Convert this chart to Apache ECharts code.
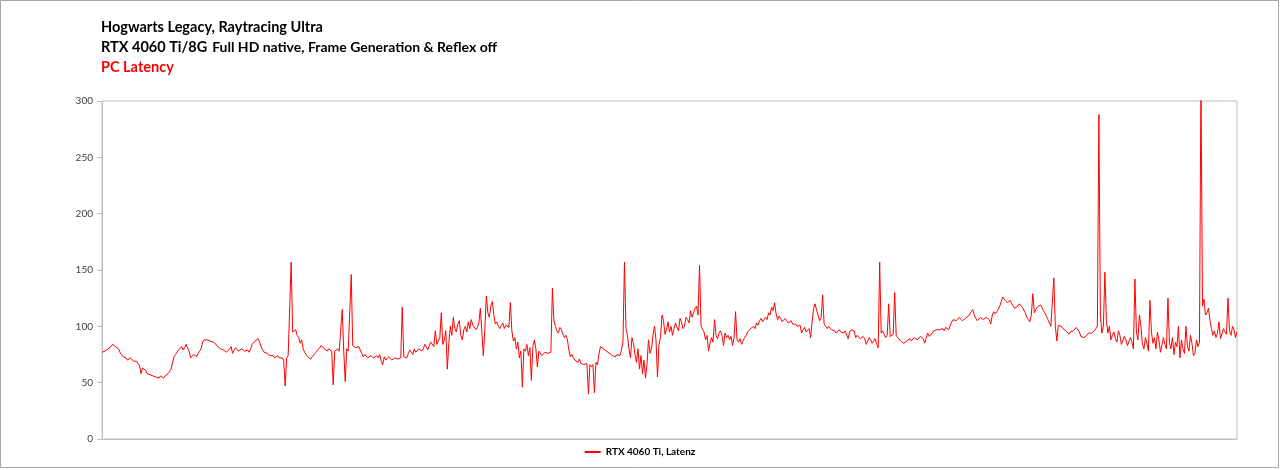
<!DOCTYPE html>
<html>
<head>
<meta charset="utf-8">
<script src="https://cdn.jsdelivr.net/npm/echarts@6/dist/echarts.min.js"></script>
<style>
  html, body { margin: 0; padding: 0; background: #fff; }
  #chart { width: 1280px; height: 470px; }
</style>
</head>
<body>
<div id="chart"></div>
<script>
var latencyPart1 = [77, 77, 78, 79, 80, 81, 82, 84, 83, 82, 82, 80, 77, 75, 73, 74, 72, 70, 70, 72,
  71, 69, 68, 69, 67, 65, 58, 63, 64, 61, 58, 57, 57, 56, 56, 55, 55, 55, 54, 56,
  55, 54, 56, 57, 58, 60, 62, 68, 73, 75, 77, 79, 80, 82, 79, 81, 84, 83, 78, 72,
  72, 75, 74, 73, 76, 78, 80, 86, 88, 87, 88, 89, 87, 86, 86, 85, 84, 82, 81, 80,
  80, 79, 78, 77, 76, 80, 82, 76, 79, 81, 80, 78, 79, 80, 79, 78, 78, 79, 77, 80,
  84, 85, 87, 88, 89, 86, 82, 79, 77, 76, 76, 75, 74, 73, 74, 72, 73, 74, 72, 71,
  72, 70, 47, 72, 74, 75];
var latencyPart2 = [157, 95, 96, 97, 92, 90, 85, 88, 80, 77, 75, 73, 72, 71, 73, 74, 76, 78, 79, 81,
  83, 82, 80, 79, 78, 80, 79, 78, 48, 78, 79, 80, 78, 77, 115, 79, 51, 80, 78, 79,
  146, 83, 82, 81, 80, 82, 79, 76, 73, 75, 74, 72, 73, 74, 74, 72, 73, 74, 72, 75,
  69, 66, 73, 70, 71, 73, 72, 70, 71, 72, 72, 71, 70, 72, 117, 73, 74, 72, 76, 79,
  78, 75, 80, 77, 76, 80, 81, 78, 80, 84, 82, 79, 83, 86, 87, 82, 96, 84, 85, 90,
  112, 84, 88, 96, 62, 85, 100, 92, 108, 98, 95, 102, 105, 92, 88, 97, 100, 95, 104, 98,
  106, 101, 100, 97];
var latencyPart3 = [99, 103, 116, 95, 74, 98, 127, 112, 108, 118, 122, 110, 102, 104, 100, 98, 101, 103, 98, 101,
  100, 99, 121, 96, 87, 90, 80, 86, 72, 78, 46, 80, 78, 84, 74, 81, 52, 82, 88, 80,
  64, 78, 77, 74, 75, 77, 77, 76, 75, 77, 134, 105, 100, 96, 94, 99, 97, 93, 90, 92,
  88, 79, 73, 75, 72, 70, 70, 68, 71, 67, 68, 66, 65, 67, 40, 66, 64, 66, 41, 68,
  66, 75, 82, 83, 80, 81, 78, 77, 76, 75, 74, 73, 73, 75, 76, 74, 79, 86, 157, 98,
  92, 80, 72, 90, 85, 75, 68, 80, 62, 74, 58, 70, 54, 66, 88, 76, 80, 92, 100, 88,
  55, 84];
var latencyPart4 = [90, 110, 105, 93, 97, 104, 95, 100, 92, 98, 103, 99, 96, 107, 104, 98, 100, 108, 106, 103,
  114, 108, 112, 116, 118, 110, 154, 100, 99, 95, 88, 92, 78, 85, 90, 86, 106, 92, 89, 94,
  96, 92, 83, 94, 90, 92, 88, 91, 83, 90, 113, 88, 86, 89, 84, 87, 90, 92, 95, 94,
  98, 97, 100, 98, 103, 101, 105, 107, 104, 106, 108, 106, 112, 110, 117, 114, 121, 111, 106, 109,
  107, 104, 105, 107, 105, 103, 104, 105, 102, 103, 102, 100, 100, 101, 94, 97, 99, 95, 96, 98,
  90, 104, 116, 120, 114, 110, 105, 108, 128, 102, 100, 98, 100, 99, 97, 98, 96, 94, 95, 97,
  95, 94, 94, 96];
var latencyPart5 = [96, 89, 95, 97, 97, 96, 90, 92, 91, 89, 90, 91, 89, 84, 87, 90, 88, 85, 86, 89,
  84, 81, 157, 94, 96, 93, 90, 92, 120, 91, 92, 93, 130, 92, 90, 89, 87, 86, 85, 86,
  87, 88, 89, 87, 88, 90, 91, 88, 89, 91, 92, 89, 85, 90, 94, 91, 92, 94, 96, 95,
  97, 96, 97, 98, 98, 96, 99, 100, 97, 101, 104, 106, 107, 105, 106, 108, 107, 105, 106, 107,
  106, 109, 111, 113, 115, 110, 107, 105, 106, 108, 107, 106, 107, 108, 108, 106, 102, 110, 113, 111,
  113, 115, 118, 122, 126, 124, 125, 121, 122, 123, 120, 118, 116, 117, 118, 120, 119, 117, 116, 112,
  108, 106, 104, 110, 129, 112, 115, 117, 118, 119];
var latencyPart6 = [117, 114, 112, 109, 106, 103, 100, 99, 143, 100, 87, 101, 102, 100, 98, 97, 96, 95, 93, 95,
  94, 96, 97, 99, 98, 95, 91, 92, 90, 91, 92, 94, 93, 94, 95, 96, 98, 100, 288, 110,
  94, 100, 148, 105, 94, 100, 88, 92, 95, 89, 86, 96, 92, 84, 85, 91, 88, 83, 82, 90,
  86, 80, 142, 95, 88, 110, 100, 84, 80, 90, 85, 78, 123, 95, 85, 90, 80, 95, 88, 77,
  78, 90, 84, 80, 125, 85, 80, 90, 75, 86, 82, 100, 72, 88, 80, 76, 100, 82, 78, 92,
  85, 74, 76, 88, 82, 86, 320, 118, 124, 110, 112, 116, 105, 98, 92, 96, 90, 94, 104, 89,
  90, 98, 95, 93, 125, 96, 92, 100, 97, 90, 95];

var yTicks = [0, 50, 100, 150, 200, 250, 300];
var seriesName = 'RTX 4060 Ti, Latenz';

var latency = latencyPart1.concat(latencyPart2, latencyPart3, latencyPart4, latencyPart5, latencyPart6);
var samples = latency.map(function (v, i) { return i; });

var font = 'Lato, "Open Sans", sans-serif';
var myChart = echarts.init(document.getElementById('chart'));

var option = {
  animation: false,
  backgroundColor: '#fff',
  title: {
    left: 96,
    top: 12,
    text: '{b|Hogwarts Legacy, Raytracing Ultra}\n{b|RTX 4060 Ti/8G} {n|Full HD native, Frame Generation & Reflex off}\n{r|PC Latency}',
    textStyle: {
      rich: {
        b: { fontFamily: font, fontSize: 14.5, fontWeight: 'bold', color: '#000', lineHeight: 20 },
        n: { fontFamily: font, fontSize: 14, color: '#000', lineHeight: 20 },
        r: { fontFamily: font, fontSize: 14.5, fontWeight: 'bold', color: '#ff0000', lineHeight: 20 }
      }
    }
  },
  graphic: [{
    type: 'rect',
    shape: { x: 0.5, y: 0.5, width: 1278, height: 467 },
    style: { fill: 'none', stroke: '#a6a6a6', lineWidth: 1 },
    silent: true
  }],
  legend: {
    data: [seriesName],
    left: 'center',
    bottom: 8,
    icon: 'rect',
    itemWidth: 16,
    itemHeight: 2,
    itemGap: 4,
    textStyle: { fontFamily: font, fontSize: 10, fontWeight: 'bold', color: '#000' }
  },
  grid: {
    left: 102,
    right: 43,
    top: 101,
    bottom: 31,
    show: true,
    borderColor: '#bfbfbf',
    borderWidth: 1
  },
  xAxis: {
    type: 'category',
    data: samples,
    boundaryGap: false,
    axisLine: { lineStyle: { color: '#bfbfbf' } },
    axisTick: { show: false },
    axisLabel: { show: false },
    splitLine: { show: false }
  },
  yAxis: {
    type: 'value',
    min: yTicks[0],
    max: yTicks[yTicks.length - 1],
    interval: 50,
    axisLine: { show: true, lineStyle: { color: '#bfbfbf' } },
    axisTick: { show: true, length: 5, lineStyle: { color: '#bfbfbf' } },
    axisLabel: { fontFamily: font, fontSize: 10, color: '#404040', margin: 9 },
    splitLine: { show: false }
  },
  series: [{
    name: seriesName,
    type: 'line',
    data: latency,
    showSymbol: false,
    symbol: 'none',
    clip: true,
    lineStyle: { color: '#ff0000', width: 1 },
    itemStyle: { color: '#ff0000' }
  }]
};

myChart.setOption(option);
</script>
</body>
</html>
